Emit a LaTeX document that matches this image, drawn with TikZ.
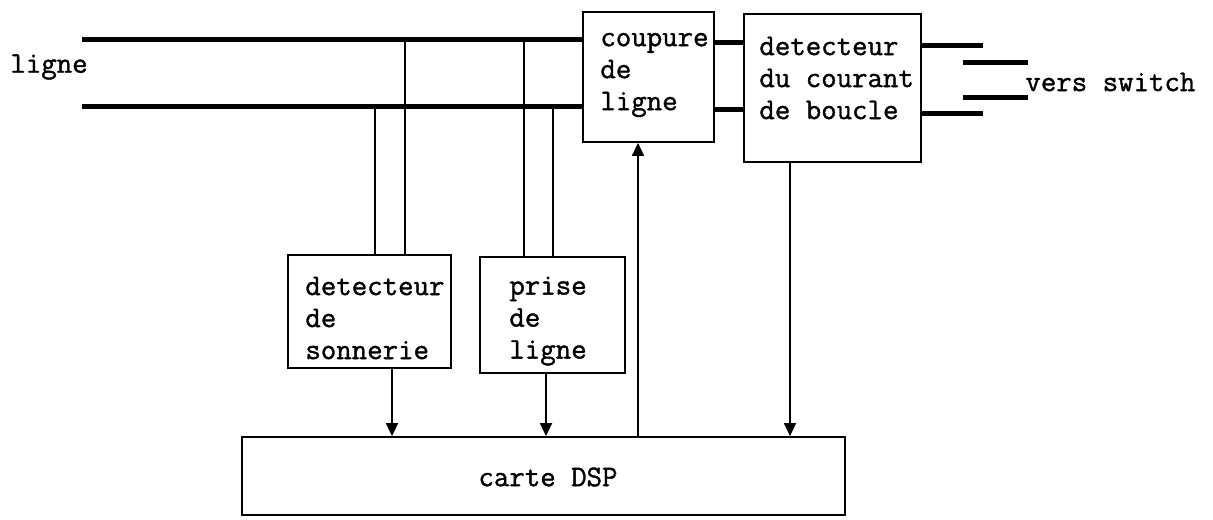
\documentclass[tikz,border=0pt]{standalone}
\usepackage{fontspec}
\newfontfamily\courfont{Latin Modern Mono}[FakeBold=1.2]
\usetikzlibrary{arrows.meta}
\begin{document}
\begin{tikzpicture}[x=0.5pt,y=-0.5pt,
  box/.style={draw,line width=0.9pt,inner sep=0pt,minimum width=#1},
  txt/.style={font=\courfont\fontsize{15}{16}\selectfont,align=left,inner sep=0pt,anchor=west},
  wire/.style={line width=2.5pt},
  tap/.style={line width=1pt},
  sig/.style={line width=0.9pt,-{Triangle[length=6.5pt,width=6pt]}}]
\fill[white] (0,0) rectangle (1213,519);
\useasboundingbox (0,0) rectangle (1213,519);
% boxes
\node[box=65.5pt,minimum height=65pt] (coup) at (648.5,77) {};
\node[box=88.5pt,minimum height=74pt] (cour) at (832.5,88) {};
\node[box=81.5pt,minimum height=56.5pt] (son) at (369.5,311.5) {};
\node[box=72.5pt,minimum height=58pt] (pri) at (552.5,315) {};
\node[box=301.5pt,minimum height=39pt] (dsp) at (543.5,476) {};
% texts
\node[txt] (tcoup) at (600,75) {coupure\\de\\ligne};
\node[txt] (tcour) at (759,78) {detecteur\\du courant\\de boucle};
\node[txt] (tson) at (305,318) {detecteur\\de\\sonnerie};
\node[txt] (tpri) at (509,321) {prise\\de\\ligne};
\node[txt,anchor=center] (tdsp) at (548,477) {carte DSP};
\node[txt] (tligne) at (10,67) {ligne};
\node[txt] (tvers) at (1025,82) {vers switch};
% line wires
\coordinate (tl) at (82,40);
\coordinate (bl) at (82,106);
\draw[wire] (tl) -- (tl -| coup.west);
\draw[wire] (bl) -- (bl -| coup.west);
\coordinate (m1) at (714,43);
\coordinate (m2) at (714,109);
\draw[wire] (m1 -| coup.east) -- (m1 -| cour.west);
\draw[wire] (m2 -| coup.east) -- (m2 -| cour.west);
\coordinate (r1) at (983,46);
\coordinate (r2) at (983,113);
\draw[wire] (r1 -| cour.east) -- (r1);
\draw[wire] (r2 -| cour.east) -- (r2);
\coordinate (v1a) at (963,63);
\coordinate (v1b) at (1028,63);
\coordinate (v2a) at (963,98);
\coordinate (v2b) at (1028,98);
\draw[wire] (v1a) -- (v1b);
\draw[wire] (v2a) -- (v2b);
% taps
\coordinate (s1) at (375,106);
\coordinate (s2) at (405,40);
\coordinate (p1) at (524,40);
\coordinate (p2) at (553,106);
\draw[tap] (s1) -- (s1 |- son.north);
\draw[tap] (s2) -- (s2 |- son.north);
\draw[tap] (p1) -- (p1 |- pri.north);
\draw[tap] (p2) -- (p2 |- pri.north);
% signals
\coordinate (a1) at (392,0);
\coordinate (a2) at (546,0);
\coordinate (a3) at (638,0);
\coordinate (a4) at (790,0);
\draw[sig] (a1 |- son.south) -- (a1 |- dsp.north);
\draw[sig] (a2 |- pri.south) -- (a2 |- dsp.north);
\draw[sig] (a3 |- dsp.north) -- (a3 |- coup.south);
\draw[sig] (a4 |- cour.south) -- (a4 |- dsp.north);
\end{tikzpicture}
\end{document}
